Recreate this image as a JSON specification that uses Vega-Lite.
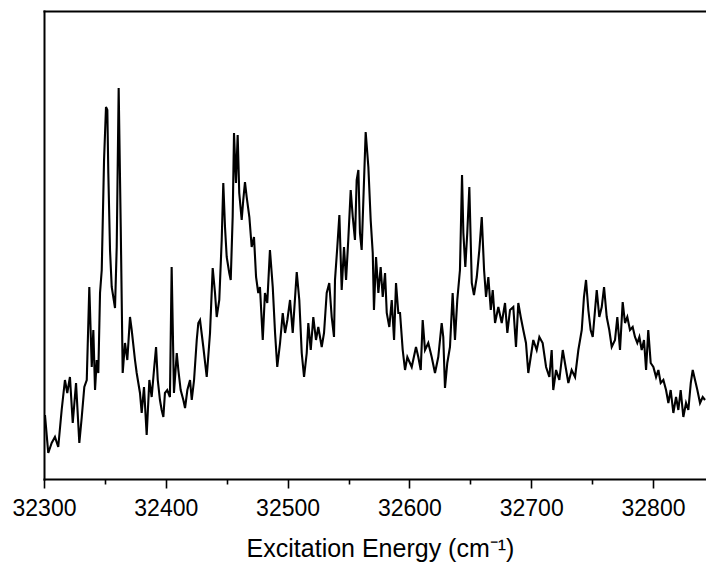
{
  "$schema": "https://vega.github.io/schema/vega-lite/v6.json",
  "width": 662,
  "height": 468,
  "padding": {"left": 44, "top": 11, "right": 0, "bottom": 87},
  "autosize": {"type": "none"},
  "background": "white",
  "config": {"view": {"stroke": null}, "font": "Liberation Sans"},
  "data": {"values": [
    {"e":32300.8,"i":64},{"e":32303.5,"i":26},{"e":32306.3,"i":36},{"e":32309.0,"i":42},{"e":32311.7,"i":32},{"e":32314.5,"i":69},{"e":32317.2,"i":99},{"e":32319.1,"i":86},{"e":32321.3,"i":102},{"e":32323.6,"i":56},{"e":32326.3,"i":96},{"e":32329.0,"i":36},{"e":32331.0,"i":62},{"e":32333.1,"i":92},{"e":32335.1,"i":99},{"e":32337.2,"i":192},{"e":32339.2,"i":112},{"e":32340.5,"i":149},{"e":32341.9,"i":89},{"e":32343.3,"i":119},{"e":32344.6,"i":106},{"e":32346.0,"i":186},{"e":32347.4,"i":209},{"e":32349.3,"i":319},{"e":32350.9,"i":372},{"e":32352.0,"i":369},{"e":32352.8,"i":306},{"e":32354.2,"i":229},{"e":32355.6,"i":192},{"e":32358.3,"i":171},{"e":32359.7,"i":232},{"e":32361.3,"i":391},{"e":32363.0,"i":252},{"e":32364.6,"i":106},{"e":32366.5,"i":136},{"e":32368.4,"i":119},{"e":32370.6,"i":162},{"e":32372.0,"i":149},{"e":32374.7,"i":119},{"e":32376.1,"i":106},{"e":32378.8,"i":86},{"e":32380.2,"i":66},{"e":32382.1,"i":92},{"e":32384.3,"i":44},{"e":32386.5,"i":99},{"e":32388.4,"i":82},{"e":32390.3,"i":109},{"e":32392.0,"i":132},{"e":32393.4,"i":99},{"e":32395.2,"i":79},{"e":32396.6,"i":69},{"e":32398.0,"i":62},{"e":32399.3,"i":86},{"e":32401.2,"i":89},{"e":32403.4,"i":82},{"e":32404.8,"i":212},{"e":32406.7,"i":86},{"e":32409.0,"i":126},{"e":32410.3,"i":109},{"e":32412.2,"i":89},{"e":32414.4,"i":79},{"e":32415.8,"i":71},{"e":32417.7,"i":89},{"e":32419.9,"i":99},{"e":32421.3,"i":79},{"e":32423.2,"i":99},{"e":32425.4,"i":139},{"e":32426.7,"i":156},
    {"e":32428.1,"i":159},{"e":32430.8,"i":132},{"e":32433.6,"i":102},{"e":32436.3,"i":146},{"e":32438.5,"i":211},{"e":32440.4,"i":186},{"e":32441.8,"i":162},{"e":32443.9,"i":179},{"e":32445.9,"i":239},{"e":32447.2,"i":296},{"e":32448.6,"i":252},{"e":32450.0,"i":222},{"e":32452.1,"i":206},{"e":32453.3,"i":199},{"e":32454.9,"i":262},{"e":32456.0,"i":346},{"e":32457.6,"i":296},{"e":32459.0,"i":344},{"e":32460.3,"i":286},{"e":32462.3,"i":259},{"e":32463.6,"i":279},{"e":32465.0,"i":297},{"e":32466.4,"i":282},{"e":32468.6,"i":262},{"e":32470.5,"i":232},{"e":32472.4,"i":242},{"e":32474.1,"i":202},{"e":32475.9,"i":186},{"e":32477.3,"i":192},{"e":32479.6,"i":139},{"e":32481.4,"i":186},{"e":32483.3,"i":176},{"e":32485.5,"i":229},{"e":32487.8,"i":192},{"e":32489.7,"i":146},{"e":32491.5,"i":112},{"e":32493.8,"i":136},{"e":32496.0,"i":166},{"e":32497.9,"i":146},{"e":32499.8,"i":159},{"e":32502.0,"i":179},{"e":32504.2,"i":146},{"e":32507.5,"i":207},{"e":32509.6,"i":179},{"e":32511.6,"i":126},{"e":32513.5,"i":102},{"e":32515.7,"i":126},{"e":32517.0,"i":156},{"e":32519.0,"i":129},{"e":32521.1,"i":162},{"e":32523.3,"i":139},{"e":32525.2,"i":152},{"e":32528.0,"i":132},{"e":32529.9,"i":146},{"e":32532.1,"i":186},{"e":32534.2,"i":196},{"e":32536.2,"i":162},{"e":32538.1,"i":142},{"e":32538.9,"i":199},{"e":32540.8,"i":232},{"e":32542.5,"i":264},{"e":32544.4,"i":189},{"e":32546.3,"i":232},{"e":32548.0,"i":199},{"e":32549.8,"i":239},{"e":32551.8,"i":289},{"e":32553.5,"i":262},{"e":32555.3,"i":239},{"e":32556.7,"i":299},{"e":32558.1,"i":309},{"e":32559.4,"i":246},{"e":32560.8,"i":229},{"e":32562.2,"i":279},{"e":32564.1,"i":347},{"e":32566.3,"i":312},{"e":32568.2,"i":259},{"e":32569.9,"i":226},{"e":32570.9,"i":169},{"e":32572.6,"i":222},{"e":32574.5,"i":186},{"e":32576.4,"i":212},{"e":32578.1,"i":182},{"e":32580.0,"i":206},{"e":32581.4,"i":166},{"e":32583.5,"i":152},{"e":32585.5,"i":179},{"e":32587.4,"i":139},{"e":32589.0,"i":196},{"e":32590.9,"i":166},
    {"e":32592.3,"i":166},{"e":32594.5,"i":129},{"e":32596.4,"i":109},{"e":32598.3,"i":122},{"e":32601.9,"i":112},{"e":32605.4,"i":132},{"e":32607.3,"i":122},{"e":32609.3,"i":109},{"e":32610.9,"i":159},{"e":32612.8,"i":129},{"e":32615.5,"i":136},{"e":32618.3,"i":122},{"e":32621.0,"i":106},{"e":32623.7,"i":122},{"e":32626.5,"i":156},{"e":32627.8,"i":142},{"e":32629.2,"i":91},{"e":32631.1,"i":116},{"e":32633.3,"i":132},{"e":32635.5,"i":186},{"e":32637.4,"i":139},{"e":32639.3,"i":179},{"e":32641.5,"i":209},{"e":32643.2,"i":304},{"e":32644.3,"i":246},{"e":32645.9,"i":212},{"e":32647.5,"i":246},{"e":32649.2,"i":292},{"e":32651.2,"i":196},{"e":32653.0,"i":184},{"e":32655.3,"i":202},{"e":32657.4,"i":229},{"e":32659.4,"i":262},{"e":32661.3,"i":209},{"e":32662.9,"i":182},{"e":32664.8,"i":202},{"e":32666.8,"i":169},{"e":32668.4,"i":189},{"e":32670.3,"i":156},{"e":32673.0,"i":172},{"e":32675.8,"i":156},{"e":32678.5,"i":176},{"e":32680.4,"i":146},{"e":32682.6,"i":169},{"e":32685.3,"i":172},{"e":32687.5,"i":132},{"e":32689.4,"i":176},{"e":32691.4,"i":162},{"e":32693.5,"i":149},{"e":32695.7,"i":136},{"e":32697.6,"i":106},{"e":32699.6,"i":122},{"e":32701.7,"i":139},{"e":32704.5,"i":129},{"e":32706.7,"i":142},{"e":32709.4,"i":136},{"e":32712.2,"i":112},{"e":32714.9,"i":102},{"e":32716.8,"i":129},{"e":32718.1,"i":89},{"e":32720.4,"i":109},{"e":32723.1,"i":99},{"e":32725.9,"i":129},{"e":32727.7,"i":116},{"e":32730.5,"i":96},{"e":32733.2,"i":109},{"e":32736.0,"i":102},{"e":32738.7,"i":129},{"e":32741.5,"i":149},{"e":32743.3,"i":182},{"e":32745.0,"i":199},{"e":32746.9,"i":169},{"e":32748.8,"i":149},{"e":32750.5,"i":142},{"e":32752.4,"i":169},{"e":32753.8,"i":189},{"e":32755.9,"i":162},{"e":32757.9,"i":172},{"e":32759.8,"i":192},{"e":32762.0,"i":162},{"e":32764.1,"i":149},{"e":32766.1,"i":132},{"e":32768.8,"i":139},{"e":32770.7,"i":162},{"e":32772.9,"i":129},{"e":32775.1,"i":177},{"e":32777.0,"i":156},{"e":32778.9,"i":162},{"e":32781.1,"i":149},{"e":32783.3,"i":152},{"e":32785.2,"i":142},{"e":32787.1,"i":136},{"e":32788.8,"i":142},{"e":32790.7,"i":129},{"e":32792.6,"i":139},{"e":32794.3,"i":109},{"e":32796.1,"i":149},{"e":32798.1,"i":116},{"e":32800.3,"i":112},{"e":32802.5,"i":102},{"e":32804.4,"i":109},{"e":32806.3,"i":96},{"e":32808.5,"i":99},{"e":32810.7,"i":89},{"e":32812.6,"i":76},{"e":32814.5,"i":89},{"e":32816.7,"i":66},{"e":32818.9,"i":82},{"e":32820.8,"i":69},{"e":32822.7,"i":89},{"e":32824.9,"i":62},{"e":32827.1,"i":76},{"e":32829.0,"i":69},{"e":32831.0,"i":96},{"e":32832.6,"i":109},{"e":32834.5,"i":99},{"e":32836.4,"i":89},{"e":32838.6,"i":76},{"e":32840.8,"i":82},{"e":32842.7,"i":79}
  ]},
  "layer": [
    {
      "mark": {"type": "line", "color": "black", "strokeWidth": 2.1, "strokeJoin": "miter", "clip": true},
      "encoding": {
        "x": {
          "field": "e", "type": "quantitative",
          "scale": {"domain": [32300, 32843.5], "nice": false, "zero": false},
          "axis": {
            "orient": "bottom",
            "values": [32300, 32350, 32400, 32450, 32500, 32550, 32600, 32650, 32700, 32750, 32800],
            "format": "d",
            "labelExpr": "datum.value % 100 === 0 ? datum.label : ''",
            "labelFlush": false, "labelOverlap": false, "labelBound": false,
            "tickSize": {"condition": {"test": "datum.value % 100 === 0", "value": 9}, "value": 5},
            "tickColor": "black", "tickWidth": 1.6,
            "domainColor": "black", "domainWidth": 2, "domainCap": "square",
            "labelFontSize": 23, "labelColor": "black", "labelPadding": 9, "labelFont": "Liberation Sans",
            "title": "Excitation Energy (cm⁻¹)", "titleFont": "Liberation Sans", "titleFontSize": 25,
            "titleFontWeight": "normal", "titleColor": "black", "titlePadding": 16, "titleX": 336,
            "grid": false
          }
        },
        "y": {
          "field": "i", "type": "quantitative",
          "scale": {"domain": [0, 468], "nice": false},
          "axis": {"ticks": false, "labels": false, "title": null, "grid": false, "domainColor": "black", "domainWidth": 2, "domainCap": "square"}
        }
      }
    },
    {
      "mark": {"type": "line", "opacity": 0},
      "encoding": {
        "x": {
          "field": "e", "type": "quantitative",
          "axis": {"orient": "top", "ticks": false, "labels": false, "title": null, "grid": false, "domainColor": "black", "domainWidth": 2, "domainCap": "square"}
        },
        "y": {"field": "i", "type": "quantitative"}
      }
    }
  ],
  "resolve": {"axis": {"x": "independent"}}
}
